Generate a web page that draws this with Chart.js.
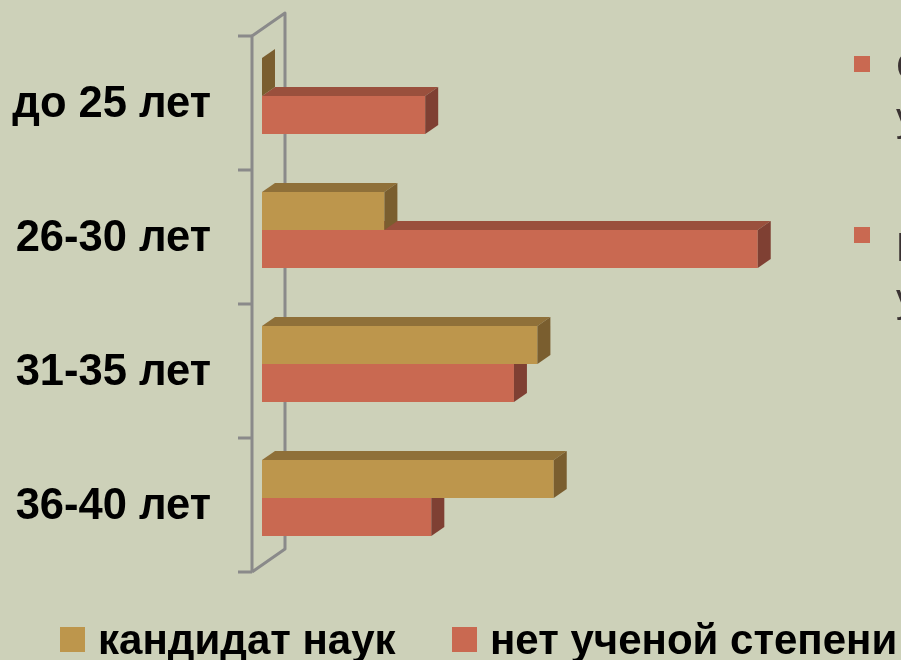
<!DOCTYPE html>
<html>
<head>
<meta charset="utf-8">
<script src="https://cdn.jsdelivr.net/npm/chart.js@4/dist/chart.umd.min.js"></script>
<style>
html,body{margin:0;padding:0;background:#CDD1B9;}
#wrap{position:relative;width:901px;height:660px;overflow:hidden;}
canvas{display:block;}
</style>
</head>
<body>
<div id="wrap"><canvas id="c" width="901" height="660"></canvas></div>
<script>
// ---- data ----
const categories = ["до 25 лет", "26-30 лет", "31-35 лет", "36-40 лет"];
const seriesNames = ["кандидат наук", "нет ученой степени"];
const candidateValues = [0, 6.0, 13.5, 14.3];
const noDegreeValues = [8.0, 24.3, 12.35, 8.3];
const sideTexts = [["Соискатели", "ученой степени"], ["Преподаватели", "университета"]];

// ---- styles ----
const BG = "#CDD1B9";
const faceColors = [
  {front: "#BD964C", top: "#8F7039", side: "#7A5E2F"},
  {front: "#C96951", top: "#9A503D", side: "#7F4033"}
];
const DX = 13, DY = -9;          // bar depth offset
const WALL_FRONT = -10;           // front wall x offset from chart left
const WALL_DX = 33, WALL_DY = -23; // wall depth
const SHIFT_Y = 7;                 // front plane y offset from bar plane

const threeD = {
  id: "threeD",
  beforeDatasetsDraw(chart) {
    const ctx = chart.ctx, y = chart.scales.y, a = chart.chartArea;
    const fx = a.left + WALL_FRONT;
    const top = a.top + SHIFT_Y, bot = a.bottom + SHIFT_Y;
    ctx.save();
    ctx.strokeStyle = "#8A8A8A";
    ctx.lineWidth = 3;
    ctx.lineJoin = "round";
    ctx.beginPath();
    ctx.moveTo(fx, bot);
    ctx.lineTo(fx, top);
    ctx.lineTo(fx + WALL_DX, top + WALL_DY);
    ctx.lineTo(fx + WALL_DX, bot + WALL_DY);
    ctx.lineTo(fx, bot);
    ctx.stroke();
    // ticks at category boundaries
    const n = categories.length;
    const band = (a.bottom - a.top) / n;
    ctx.beginPath();
    for (let i = 0; i <= n; i++) {
      const ty = top + i * band;
      ctx.moveTo(fx - 14, ty);
      ctx.lineTo(fx, ty);
    }
    ctx.stroke();
    // labels
    ctx.fillStyle = "#000";
    ctx.font = "bold 43.5px 'Liberation Sans', Arial, sans-serif";
    ctx.textAlign = "right";
    ctx.textBaseline = "middle";
    categories.forEach((c, i) => {
      ctx.fillText(c, fx - 41, y.getPixelForValue(i) + SHIFT_Y + 2);
    });
    ctx.restore();
  },
  afterDatasetDraw(chart, args) {
    const ctx = chart.ctx;
    const meta = args.meta;
    const col = faceColors[args.index];
    ctx.save();
    meta.data.forEach(el => {
      const p = el.getProps(["x", "y", "base", "height"], true);
      const t = p.y - p.height / 2, b = p.y + p.height / 2;
      const x0 = p.base, x1 = p.x;
      // top face
      if (x1 > x0) {
        ctx.fillStyle = col.top;
        ctx.beginPath();
        ctx.moveTo(x0, t); ctx.lineTo(x1, t);
        ctx.lineTo(x1 + DX, t + DY); ctx.lineTo(x0 + DX, t + DY);
        ctx.closePath(); ctx.fill();
      }
      // side face
      ctx.fillStyle = col.side;
      ctx.beginPath();
      ctx.moveTo(x1, t); ctx.lineTo(x1 + DX, t + DY);
      ctx.lineTo(x1 + DX, b + DY); ctx.lineTo(x1, b);
      ctx.closePath(); ctx.fill();
    });
    ctx.restore();
  },
  afterDraw(chart) {
    const ctx = chart.ctx;
    ctx.save();
    // legend
    ctx.font = "bold 42px 'Liberation Sans', Arial, sans-serif";
    ctx.textBaseline = "alphabetic";
    ctx.textAlign = "left";
    const legendX = [60, 452];
    seriesNames.forEach((s, i) => {
      ctx.fillStyle = faceColors[i].front;
      ctx.fillRect(legendX[i], 627, 25, 25);
      ctx.fillStyle = "#000";
      ctx.fillText(s, legendX[i] + 38, 654);
    });
    // side bullets (cut off at the right edge)
    const blocks = [56, 227];
    ctx.font = "40px 'Liberation Sans', Arial, sans-serif";
    blocks.forEach((by, i) => {
      ctx.fillStyle = faceColors[1].front;
      ctx.fillRect(854, by, 16, 16);
      ctx.fillStyle = "#3A3232";
      ctx.fillText(sideTexts[i][0], 896, by + 24 + (i ? 10 : 0));
      ctx.fillText(sideTexts[i][1], 896, by + 75 + (i ? 10 : 0));
    });
    ctx.restore();
  }
};

new Chart(document.getElementById("c"), {
  type: "bar",
  data: {
    labels: categories,
    datasets: [
      {label: seriesNames[0], data: candidateValues, backgroundColor: faceColors[0].front},
      {label: seriesNames[1], data: noDegreeValues, backgroundColor: faceColors[1].front}
    ]
  },
  options: {
    indexAxis: "y",
    responsive: false,
    animation: false,
    categoryPercentage: 0.567,
    barPercentage: 1,
    layout: {padding: {left: 262, right: 27, top: 29, bottom: 95}},
    scales: {
      x: {display: false, min: 0, max: 30},
      y: {display: false}
    },
    plugins: {legend: {display: false}, tooltip: {enabled: false}}
  },
  plugins: [threeD]
});
</script>
</body>
</html>
